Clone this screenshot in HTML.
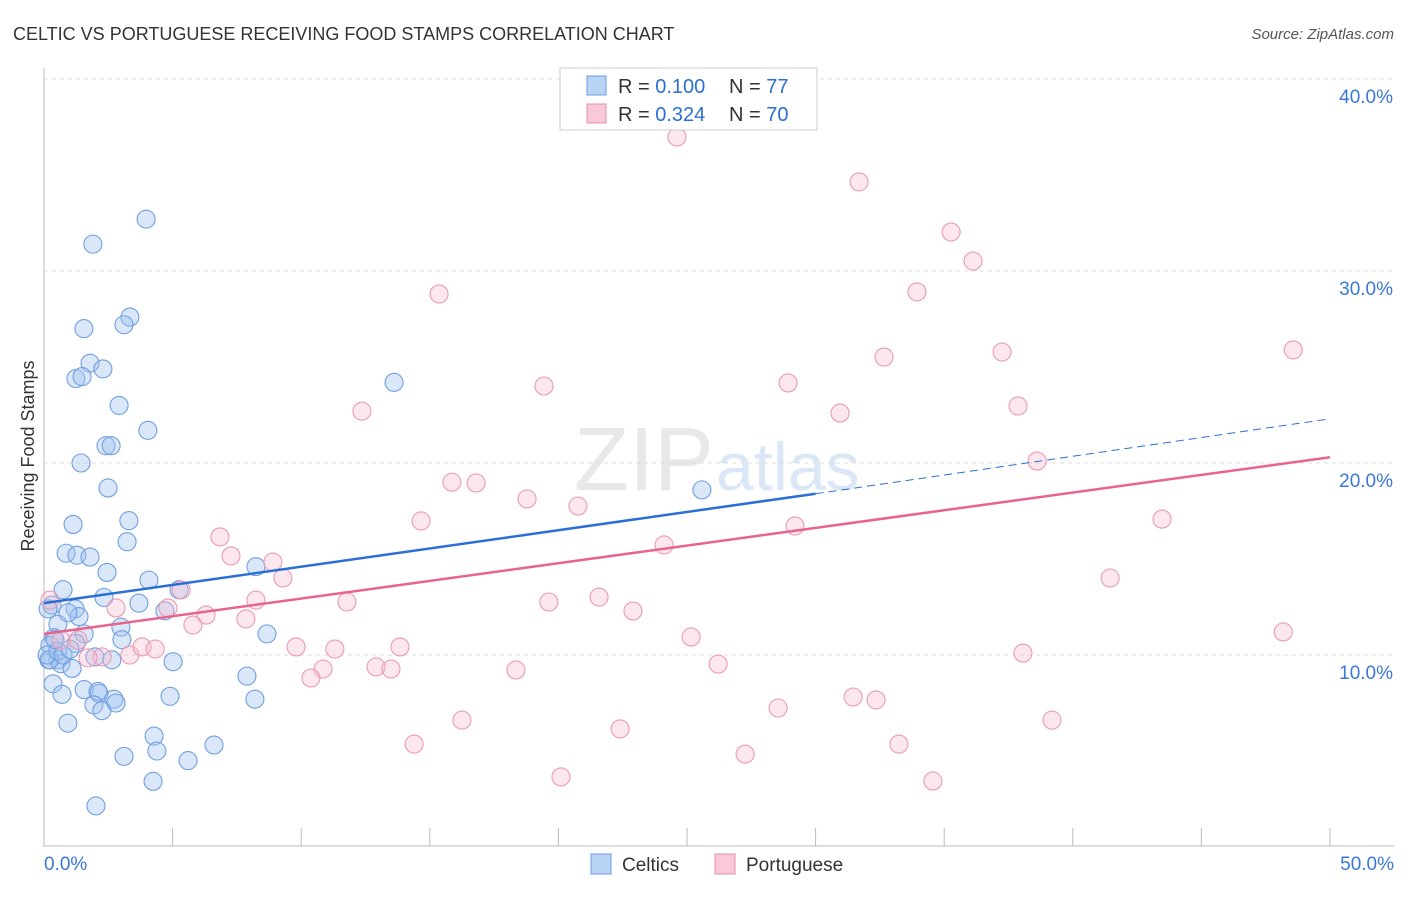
<!DOCTYPE html>
<html><head><meta charset="utf-8"><style>
body{margin:0;background:#fff;font-family:"Liberation Sans",sans-serif}
svg text{font-family:"Liberation Sans",sans-serif}
</style></head><body>
<svg id="c" width="1406" height="892" xmlns="http://www.w3.org/2000/svg">
<text x="13" y="40" font-size="18" fill="#333">CELTIC VS PORTUGUESE RECEIVING FOOD STAMPS CORRELATION CHART</text>
<text x="1394" y="39" font-size="15" fill="#555" font-style="italic" text-anchor="end">Source: ZipAtlas.com</text>
<text x="714" y="490" font-size="90" fill="#e8e8e8" text-anchor="end" font-family="Liberation Serif">ZIP</text>
<text x="716" y="490" font-size="68" fill="#dbe7f6">atlas</text>
<text transform="translate(34,456) rotate(-90)" font-size="18" fill="#333" text-anchor="middle">Receiving Food Stamps</text>
<g id="grid"></g><g id="pts"></g><g id="lines"></g>
<g>
<rect x="560" y="68" width="257" height="62" fill="#fff" stroke="#ccc"/>
<rect x="587" y="76" width="19" height="19" fill="#b9d3f5" stroke="#6a9de0"/>
<rect x="587" y="104" width="19" height="19" fill="#f9c9d7" stroke="#e890ab"/>
<text x="618" y="93" font-size="20" fill="#333">R = <tspan fill="#2b6fd6">0.100</tspan></text>
<text x="729" y="93" font-size="20" fill="#333">N = <tspan fill="#2b6fd6">77</tspan></text>
<text x="618" y="121" font-size="20" fill="#333">R = <tspan fill="#2b6fd6">0.324</tspan></text>
<text x="729" y="121" font-size="20" fill="#333">N = <tspan fill="#2b6fd6">70</tspan></text>
</g>
<g>
<rect x="591" y="854" width="20" height="20" fill="#b9d3f5" stroke="#6a9de0"/>
<text x="622" y="871" font-size="19" fill="#333">Celtics</text>
<rect x="715" y="854" width="20" height="20" fill="#f9c9d7" stroke="#e890ab"/>
<text x="746" y="871" font-size="19" fill="#333">Portuguese</text>
</g>
</svg>
<script>
const xTicks=[0,5,10,15,20,25,30,35,40,45,50];
const yTicks=[10,20,30,40];
const yTickLabels=["10.0%","20.0%","30.0%","40.0%"];
const celticsX=[3.97,1.90,1.55,3.34,3.11,1.79,2.29,1.24,1.48,2.92,4.04,2.41,2.61,1.44,2.49,13.61,25.58,1.13,3.30,3.23,0.86,1.28,1.79,2.45,4.08,8.24,0.74,2.33,3.69,4.70,5.25,1.21,0.31,1.36,0.54,1.56,2.99,3.03,0.39,0.23,1.24,8.67,1.98,2.64,0.54,0.19,0.66,1.09,5.02,7.89,0.35,0.70,1.56,2.14,2.10,2.72,2.80,1.94,2.25,4.90,8.20,0.93,4.28,4.39,6.61,3.11,5.60,4.24,2.02,0.23,0.12,0.54,0.74,0.16,0.93,0.43,1.01];
const celticsY=[32.7,31.4,27.0,27.6,27.2,25.2,24.9,24.4,24.5,23.0,21.7,20.9,20.9,20.0,18.7,24.2,18.6,16.8,17.0,15.9,15.3,15.2,15.1,14.3,13.9,14.6,13.4,13.0,12.7,12.3,13.4,12.4,12.6,12.0,11.6,11.1,11.45,10.8,10.9,10.5,10.6,11.1,9.9,9.75,9.75,9.75,9.55,9.3,9.65,8.9,8.5,7.95,8.2,8.0,8.1,7.7,7.5,7.4,7.1,7.85,7.7,6.45,5.78,5.0,5.31,4.72,4.5,3.42,2.14,9.75,10.0,10.2,10.0,12.4,12.2,10.8,10.3];
const portX=[24.61,31.69,35.27,36.12,15.36,33.94,32.66,37.25,48.57,19.44,28.93,12.36,30.95,37.87,38.61,15.86,16.80,18.78,20.76,14.66,29.20,43.47,24.11,6.84,7.27,8.90,9.29,41.45,5.33,8.24,4.82,6.30,11.78,19.63,21.58,22.90,7.85,5.79,2.80,25.16,9.80,11.31,13.84,48.18,0.23,0.66,1.32,2.26,3.34,3.81,4.32,10.85,12.91,13.49,18.35,26.21,38.06,10.38,31.46,32.35,28.54,16.25,39.19,22.40,14.39,33.24,27.26,20.10,34.56,1.71];
const portY=[36.98,34.64,32.03,30.52,28.8,28.91,25.52,25.78,25.89,24.01,24.17,22.70,22.60,22.97,20.10,19.0,18.96,18.13,17.76,16.98,16.72,17.08,15.73,16.15,15.16,14.84,14.01,14.01,13.39,12.86,12.45,12.08,12.76,12.76,13.02,12.29,11.88,11.56,12.45,10.94,10.42,10.31,10.42,11.20,12.86,10.78,10.78,9.90,10.0,10.42,10.31,9.27,9.38,9.27,9.22,9.53,10.10,8.80,7.81,7.66,7.24,6.61,6.61,6.15,5.36,5.36,4.84,3.65,3.44,9.85];
const blueLine=[[0,12.7],[30,18.4],[50,22.3]];
const pinkLine=[[0,11.1],[50,20.3]];
const X=v=>44+v*25.72, Y=v=>847-v*19.2;
const NS="http://www.w3.org/2000/svg";
function mk(t,a,p){const e=document.createElementNS(NS,t);for(const k in a)e.setAttribute(k,a[k]);p.appendChild(e);return e;}
const grid=document.getElementById('grid'),pts=document.getElementById('pts'),lines=document.getElementById('lines');
yTicks.forEach((t,i)=>{
 const g=mk('line',{x1:44,x2:1394,y1:Y(t),y2:Y(t),stroke:'#ddd','stroke-dasharray':'4,4'},grid);
 
 
 const l=mk('text',{x:1393,y:Y(t)+24,'font-size':19,fill:'#3a78d8','text-anchor':'end'},grid);l.textContent=yTickLabels[i];
 
 
});
const ya=mk('line',{x1:44,x2:44,y1:68,y2:847,stroke:'#bbb'},grid);


const xa=mk('line',{x1:44,x2:1394,y1:846,y2:846,stroke:'#bbb'},grid);


xTicks.forEach(t=>{const e=mk('line',{x1:X(t),x2:X(t),y1:828,y2:846,stroke:'#bbb'},grid);
 
 });
[[0,'0.0%','start',44],[50,'50.0%','end',1394]].forEach(d=>{const e=mk('text',{x:d[3],y:870,'font-size':19,fill:'#3a78d8','text-anchor':d[2]},grid);e.textContent=d[1];
 
 });
function dots(xs,ys,f,s,n){xs.forEach((x,i)=>{const c=mk('circle',{cx:X(x),cy:Y(ys[i]),r:9,fill:f,stroke:s,'stroke-width':1.1},pts);
 
 });}
dots(celticsX,celticsY,'rgba(160,195,240,0.4)','#6f9fe0','celtics-point');
dots(portX,portY,'rgba(248,185,205,0.35)','#eb9ab3','portuguese-point');
const b1=mk('line',{x1:X(blueLine[0][0]),y1:Y(blueLine[0][1]),x2:X(blueLine[1][0]),y2:Y(blueLine[1][1]),stroke:'#2a6fd6','stroke-width':2.5},lines);


const b2=mk('line',{x1:X(blueLine[1][0]),y1:Y(blueLine[1][1]),x2:X(blueLine[2][0]),y2:Y(blueLine[2][1]),stroke:'#2a6fd6','stroke-width':1,'stroke-dasharray':'8,5'},lines);


const p1=mk('line',{x1:X(pinkLine[0][0]),y1:Y(pinkLine[0][1]),x2:X(pinkLine[1][0]),y2:Y(pinkLine[1][1]),stroke:'#e8648e','stroke-width':2.5},lines);


</script>
</body></html>
